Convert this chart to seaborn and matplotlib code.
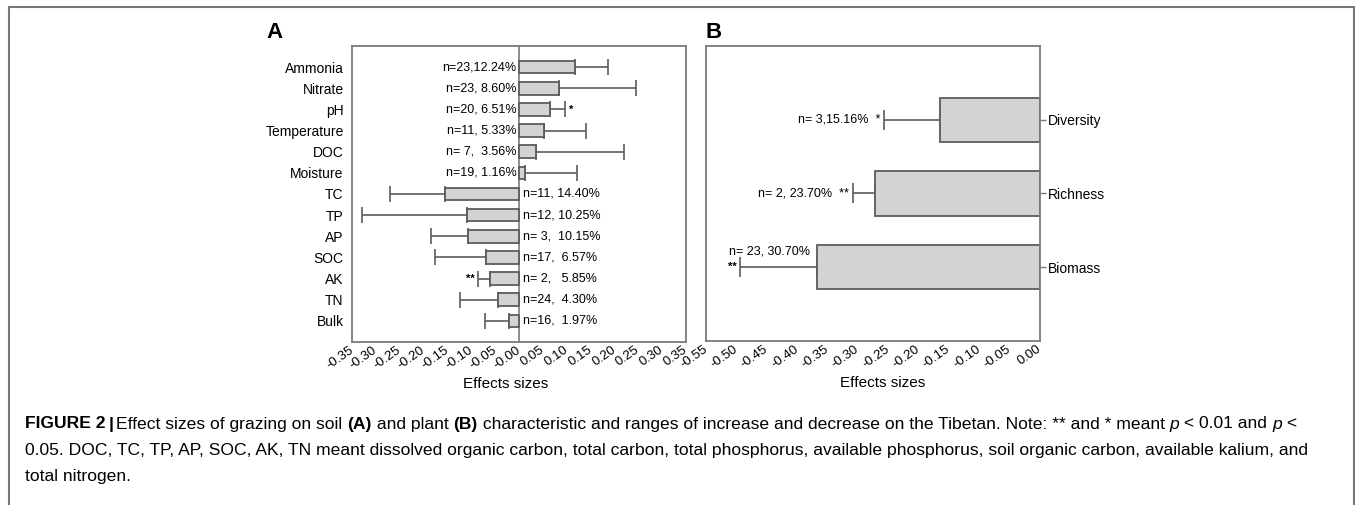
import numpy as np
import pandas as pd
import matplotlib
matplotlib.use("Agg")
import matplotlib.pyplot as plt
import seaborn as sns
from matplotlib.lines import Line2D

# soil (panel A)
soil_vars = ["Ammonia", "Nitrate", "pH", "Temperature", "DOC", "Moisture",
             "TC", "TP", "AP", "SOC", "AK", "TN", "Bulk"]
soil_mean = [0.117, 0.084, 0.064, 0.052, 0.036, 0.012,
             -0.156, -0.109, -0.108, -0.069, -0.061, -0.045, -0.020]
soil_ci = [0.186, 0.246, 0.097, 0.140, 0.220, 0.122,
           -0.270, -0.329, -0.184, -0.176, -0.085, -0.123, -0.071]
soil_labels = ["n=23,12.24%", "n=23, 8.60%", "n=20, 6.51%", "n=11, 5.33%",
               "n= 7,  3.56%", "n=19, 1.16%", "n=11, 14.40%", "n=12, 10.25%",
               "n= 3,  10.15%", "n=17,  6.57%", "n= 2,   5.85%", "n=24,  4.30%",
               "n=16,  1.97%"]
soil_sig = ["", "", "*", "", "", "", "", "", "", "", "**", "", ""]

# plant (panel B)
plant_vars = ["Diversity", "Richness", "Biomass"]
plant_mean = [-0.165, -0.271, -0.367]
plant_ci = [-0.256, -0.308, -0.494]
plant_labels = ["n= 3,15.16%", "n= 2, 23.70%", "n= 23, 30.70%"]
plant_sig = ["*", "**", "**"]

soil_ticks = np.round(np.arange(-0.35, 0.351, 0.05), 2)
plant_ticks = np.round(np.arange(-0.55, 0.001, 0.05), 2)

sns.set_style("white")
plt.rcParams["font.family"] = ["Liberation Sans", "DejaVu Sans"]
plt.rcParams["text.color"] = "black"
plt.rcParams["axes.labelcolor"] = "black"
plt.rcParams["xtick.labelcolor"] = "black"
plt.rcParams["ytick.labelcolor"] = "black"

EDGE = "#5c5c5c"
FACE = "#d3d3d3"
SPINE = "#7a7a7a"

fig = plt.figure(figsize=(13.55, 5.05), dpi=100)
axA = fig.add_axes([0.2598, 0.3228, 0.2465, 0.5861])
axB = fig.add_axes([0.5210, 0.3248, 0.2465, 0.5841])


def draw_panel(ax, names, means, ci, capsize):
    df = pd.DataFrame({"var": names, "mean": means})
    pos = np.arange(len(names))
    m = np.array(means)
    c = np.array(ci)
    lo = np.where(c < m, m - c, 0)
    hi = np.where(c > m, c - m, 0)
    ax.errorbar(m, pos, xerr=[lo, hi], fmt="none", ecolor=EDGE,
                elinewidth=1.2, capsize=capsize, capthick=1.2, zorder=1)
    sns.barplot(data=df, x="mean", y="var", orient="h", color=FACE,
                edgecolor=EDGE, linewidth=1.3, width=0.6, saturation=1,
                ax=ax, zorder=2)
    for s in ax.spines.values():
        s.set_color(SPINE)
        s.set_linewidth(1.3)
        s.set_visible(True)
    ax.set_ylabel("")
    ax.set_xlabel("Effects sizes", fontsize=11, labelpad=4)
    ax.tick_params(axis="both", direction="out", length=4, width=1,
                   color=SPINE, pad=2)
    ax.tick_params(axis="x", labelsize=9.5, pad=1)
    ax.tick_params(axis="y", labelsize=10)
    return pos


def rot_ticks(ax, ticks):
    ax.set_xticks(ticks)
    ax.set_xticklabels([f"{t:.2f}" for t in ticks], rotation=35,
                       ha="right", va="center", rotation_mode="anchor")


# panel A
pos = draw_panel(axA, soil_vars, soil_mean, soil_ci, 6)
axA.axvline(0, color=SPINE, lw=1.2, zorder=0)
axA.set_xlim(-0.35, 0.35)
axA.set_ylim(13, -1)
rot_ticks(axA, soil_ticks)
for p, v, c, lab, sig in zip(pos, soil_mean, soil_ci, soil_labels, soil_sig):
    if v > 0:
        axA.text(-0.005, p, lab, ha="right", va="center", fontsize=9)
        if sig:
            axA.text(c + 0.008, p, sig, ha="left", va="center", fontsize=8,
                     fontweight="bold")
    else:
        axA.text(0.009, p, lab, ha="left", va="center", fontsize=9)
        if sig:
            axA.text(c - 0.008, p, sig, ha="right", va="center", fontsize=8,
                     fontweight="bold")

# panel B
pos = draw_panel(axB, plant_vars, plant_mean, plant_ci, 7)
axB.set_xlim(-0.55, 0.0)
axB.set_ylim(3, -1)
axB.yaxis.tick_right()
rot_ticks(axB, plant_ticks)
axB.xaxis.label.set_position((0.53, 0))
axA.xaxis.label.set_position((0.46, 0))
for p, v, c, lab, sig in zip(pos, plant_mean, plant_ci, plant_labels, plant_sig):
    if p < 2:
        axB.text(c - 0.006, p, lab + "  " + sig, ha="right", va="center",
                 fontsize=9)
    else:
        axB.text(c - 0.018, p - 0.22, lab, ha="left", va="center", fontsize=9)
        axB.text(c - 0.005, p, sig, ha="right", va="center", fontsize=8,
                 fontweight="bold")

fig.text(0.197, 0.915, "A", fontsize=16, fontweight="bold", va="bottom")
fig.text(0.521, 0.915, "B", fontsize=16, fontweight="bold", va="bottom")

# outer frame
W, H = 1355, 505
fig.add_artist(Line2D([9 / W, 1354 / W], [1 - 7 / H, 1 - 7 / H],
                      color="#777777", lw=1.5, transform=fig.transFigure))
fig.add_artist(Line2D([9 / W, 9 / W], [0, 1 - 7 / H],
                      color="#777777", lw=1.5, transform=fig.transFigure))
fig.add_artist(Line2D([1354 / W, 1354 / W], [0, 1 - 7 / H],
                      color="#777777", lw=1.5, transform=fig.transFigure))

# caption, written piece by piece so bold/italic can be mixed
renderer = fig.canvas.get_renderer()
cap_lines = [
    [("FIGURE 2", "bold", "normal"), ("|", "bold", "normal"),
     ("Effect sizes of grazing on soil ", "normal", "normal"),
     ("(A)", "bold", "normal"), (" and plant ", "normal", "normal"),
     ("(B)", "bold", "normal"),
     (" characteristic and ranges of increase and decrease on the Tibetan. "
      "Note: ** and * meant ", "normal", "normal"),
     ("p", "normal", "italic"), (" < 0.01 and ", "normal", "normal"),
     ("p", "normal", "italic"), (" <", "normal", "normal")],
    [("0.05. DOC, TC, TP, AP, SOC, AK, TN meant dissolved organic carbon, "
      "total carbon, total phosphorus, available phosphorus, soil organic "
      "carbon, available kalium, and", "normal", "normal")],
    [("total nitrogen.", "normal", "normal")],
]
line_y = [424, 451, 477]
for parts, yy in zip(cap_lines, line_y):
    x = 25 / W
    for i, (txt, wt, st) in enumerate(parts):
        t = fig.text(x, 1 - yy / H, txt, fontsize=12.6, fontweight=wt,
                     fontstyle=st, va="center", ha="left")
        bb = t.get_window_extent(renderer)
        gap = 3 if txt in ("FIGURE 2", "|") else 0
        x += (bb.width + gap) / W

fig.savefig("out.png", dpi=100)
